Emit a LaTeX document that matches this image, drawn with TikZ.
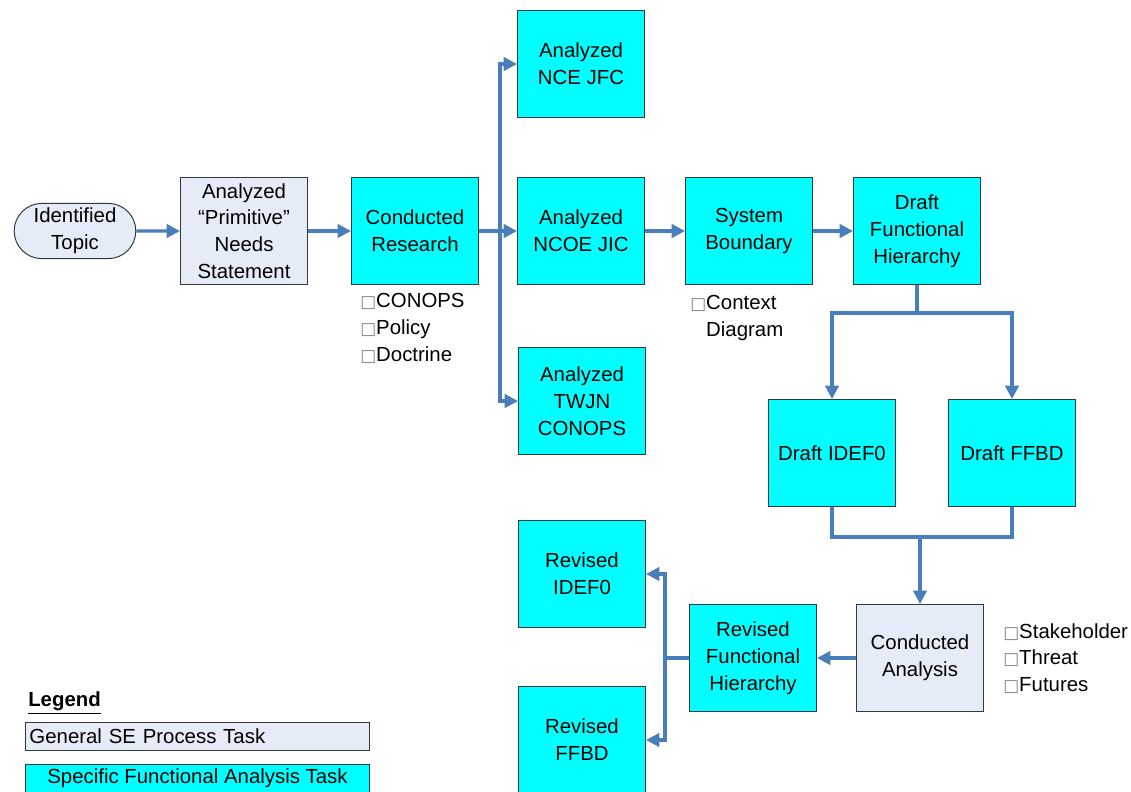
\documentclass[tikz,border=0pt]{standalone}
\usepackage{fontspec}
\setmainfont{Liberation Sans}
\newfontfamily\symfont{DejaVu Sans}
\usetikzlibrary{arrows.meta,shapes.misc}
\definecolor{taskcyan}{HTML}{00FFFF}
\definecolor{genfill}{HTML}{E6ECF7}
\definecolor{flowblue}{HTML}{4A7EBB}
\definecolor{boxline}{HTML}{2F3A40}
\newcommand{\bx}{{\symfont\fontsize{12}{12}\selectfont\textcolor{gray}{□}}}
\begin{document}
\begin{tikzpicture}[x=0.025cm,y=-0.025cm,
        every node/.style={font=\fontsize{14.5}{19.1}\selectfont},
        task/.style={draw=boxline,line width=0.7pt,fill=taskcyan,minimum width=127*0.025cm,minimum height=107*0.025cm,align=center,inner sep=1pt},
        gentask/.style={task,fill=genfill},
        note/.style={anchor=north west,align=left,inner sep=0pt},
        line/.style={draw=flowblue,line width=2.2pt},
        flow/.style={line,-{Triangle[length=9.5pt,width=9.5pt]}}]
    \useasboundingbox (0,0) rectangle (1131,791);
    % main row
    \node [rounded rectangle,draw=boxline,line width=0.7pt,fill=genfill,minimum width=131*0.025cm,minimum height=53*0.025cm,align=center] (topic) at (75,231) {Identified\\Topic};
    \node [gentask] (needs) at (244,231) {Analyzed\\“Primitive”\\Needs\\Statement};
    \node [task] (research) at (415,231) {Conducted\\Research};
    \node [task] (jfc) at (581,64) {Analyzed\\NCE JFC};
    \node [task] (jic) at (581,231) {Analyzed\\NCOE JIC};
    \node [task] (twjn) at (582,401) {Analyzed\\TWJN\\CONOPS};
    \node [task] (boundary) at (749,231) {System\\Boundary};
    \node [task] (dfh) at (917,231) {Draft\\Functional\\Hierarchy};
    \node [task] (idef) at (832,453) {Draft IDEF0};
    \node [task] (ffbd) at (1012,453) {Draft FFBD};
    \node [gentask] (analysis) at (920,658) {Conducted\\Analysis};
    \node [task] (rfh) at (753,658) {Revised\\Functional\\Hierarchy};
    \node [task] (ridef) at (582,574) {Revised\\IDEF0};
    \node [task] (rffbd) at (582,740) {Revised\\FFBD};
    % notes
    \node [note] (resnote) at (360,293) {\bx CONOPS\\\bx Policy\\\bx Doctrine};
    \node [note] (ctxnote) at (690,295) {\bx Context\\\hphantom{\bx}Diagram};
    \node [note] (anote) at (1003,623) {\bx Stakeholder\\\bx Threat\\\bx Futures};
    % legend
    \node [anchor=west,inner sep=0pt] (legend) at (28,703) {\textbf{\underline{Legend}}};
    \node [draw=boxline,line width=0.7pt,fill=genfill,anchor=north west,minimum width=344*0.025cm,minimum height=28*0.025cm,text width=336*0.025cm,inner sep=2pt,align=left] (lgen) at (25,722) {General SE Process Task};
    \node [draw=boxline,line width=0.7pt,fill=taskcyan,anchor=north west,minimum width=344*0.025cm,minimum height=28*0.025cm,align=center,inner sep=2pt] (lspec) at (25,764) {Specific Functional Analysis Task};
    % connectors
    \draw [flow] (topic) -- (needs);
    \draw [flow] (needs) -- (research);
    \draw [flow] (research) -- (jic);
    \coordinate (split) at (500,231);
    \draw [flow] (split) |- (jfc.west);
    \draw [flow] (split) |- (twjn.west);
    \draw [flow] (jic) -- (boundary);
    \draw [flow] (boundary) -- (dfh);
    \coordinate (fork) at (917,313);
    \draw [line] (dfh.south) -- (fork);
    \draw [flow] (fork) -| (idef.north);
    \draw [flow] (fork) -| (ffbd.north);
    \coordinate (merge) at (920,537);
    \draw [line] (idef.south) |- (merge) -| (ffbd.south);
    \draw [flow] (merge) -- (analysis.north);
    \draw [flow] (analysis) -- (rfh);
    \coordinate (rfork) at (665,658);
    \draw [line] (rfh.west) -- (rfork);
    \draw [flow] (rfork) |- (ridef.east);
    \draw [flow] (rfork) |- (rffbd.east);
\end{tikzpicture}
\end{document}
